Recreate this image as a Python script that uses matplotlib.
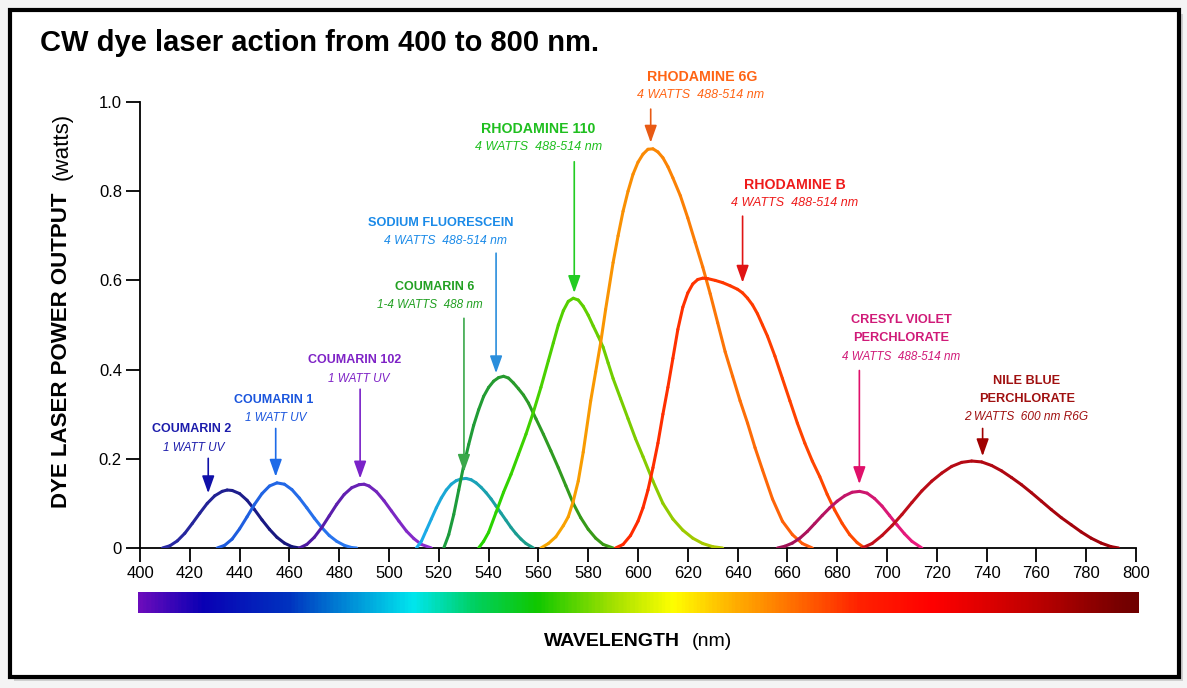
import numpy as np
import matplotlib.pyplot as plt
from matplotlib.collections import LineCollection
from matplotlib.colors import LinearSegmentedColormap, to_rgb
from matplotlib.patches import Rectangle

plt.rcParams['font.family'] = ['Liberation Sans', 'DejaVu Sans']

# tuning curves: wavelength (nm) / output (watts)
c2_nm = [409, 412, 415, 418, 421, 424, 427, 430, 433, 435, 437, 440, 443, 446, 449, 452, 455, 458, 461, 464]
c2_w = [0, 0.005, 0.016, 0.033, 0.055, 0.078, 0.100, 0.117, 0.127, 0.130, 0.129, 0.122, 0.107, 0.086, 0.063, 0.042, 0.024, 0.011, 0.003, 0]

c1_nm = [431, 434, 437, 440, 443, 446, 449, 452, 455, 458, 461, 464, 467, 470, 473, 476, 479, 482, 485, 487]
c1_w = [0, 0.006, 0.020, 0.043, 0.070, 0.098, 0.122, 0.139, 0.146, 0.143, 0.131, 0.112, 0.090, 0.067, 0.046, 0.028, 0.015, 0.006, 0.001, 0]

c102_nm = [464, 467, 470, 473, 476, 479, 482, 485, 488, 490, 492, 495, 498, 501, 504, 507, 510, 513, 517]
c102_w = [0, 0.008, 0.024, 0.046, 0.072, 0.098, 0.120, 0.135, 0.142, 0.143, 0.139, 0.126, 0.106, 0.083, 0.060, 0.038, 0.021, 0.008, 0]

c6_nm = [511, 513, 515, 517, 519, 521, 523, 525, 527, 529, 531, 533, 535, 537, 539, 541, 543, 545, 547, 549, 551, 553, 555, 558]
c6_w = [0, 0.015, 0.040, 0.065, 0.090, 0.112, 0.130, 0.143, 0.151, 0.155, 0.156, 0.153, 0.146, 0.136, 0.124, 0.110, 0.094, 0.078, 0.062, 0.046, 0.032, 0.020, 0.010, 0]

sf_nm = [522, 524, 526, 528, 530, 532, 534, 536, 538, 540, 542, 544, 546, 548, 550, 552, 554, 556, 559, 562, 565, 568, 571, 574, 577, 580, 583, 586, 590]
sf_w = [0, 0.030, 0.075, 0.130, 0.185, 0.232, 0.275, 0.310, 0.340, 0.360, 0.374, 0.382, 0.385, 0.381, 0.370, 0.357, 0.343, 0.325, 0.290, 0.255, 0.218, 0.180, 0.140, 0.100, 0.068, 0.042, 0.022, 0.008, 0]

r110_nm = [536, 538, 540, 543, 546, 549, 552, 555, 558, 561, 564, 566, 568, 570, 572, 574, 576, 578, 580, 582, 584, 586, 588, 590,
           593, 596, 599, 602, 606, 610, 614, 618, 622, 626, 630, 634]
r110_w = [0, 0.015, 0.035, 0.080, 0.125, 0.165, 0.210, 0.255, 0.305, 0.360, 0.420, 0.460, 0.500, 0.532, 0.553, 0.560, 0.556, 0.542,
          0.522, 0.498, 0.475, 0.450, 0.415, 0.380, 0.335, 0.290, 0.245, 0.205, 0.150, 0.100, 0.065, 0.040, 0.022, 0.010, 0.003, 0]

r6g_nm = [561, 564, 567, 570, 572, 574, 576, 578, 581, 583, 585, 587, 590, 592, 594, 596, 598, 600, 602, 604, 606, 608, 610, 612,
          614, 617, 620, 623, 626, 629, 632, 635, 638, 641, 644, 647, 650, 654, 658, 662, 666, 670]
r6g_w = [0, 0.010, 0.025, 0.050, 0.070, 0.105, 0.150, 0.215, 0.330, 0.395, 0.460, 0.535, 0.640, 0.700, 0.755, 0.800, 0.838, 0.865,
         0.883, 0.894, 0.895, 0.888, 0.875, 0.855, 0.830, 0.790, 0.740, 0.685, 0.630, 0.570, 0.505, 0.440, 0.385, 0.330, 0.280,
         0.225, 0.175, 0.110, 0.060, 0.030, 0.010, 0]

rb_nm = [591, 594, 597, 600, 602, 604, 606, 608, 610, 612, 614, 616, 618, 620, 622, 624, 626, 628, 631, 634, 637, 640, 642, 644,
         646, 648, 650, 652, 655, 658, 661, 664, 667, 670, 673, 676, 679, 682, 685, 688, 691]
rb_w = [0, 0.008, 0.028, 0.060, 0.090, 0.130, 0.180, 0.235, 0.300, 0.360, 0.425, 0.490, 0.540, 0.572, 0.592, 0.602, 0.605, 0.604,
        0.600, 0.595, 0.588, 0.580, 0.572, 0.560, 0.545, 0.525, 0.500, 0.475, 0.430, 0.380, 0.330, 0.280, 0.235, 0.195, 0.160,
        0.120, 0.085, 0.055, 0.030, 0.012, 0]

cv_nm = [656, 659, 662, 665, 668, 671, 674, 677, 680, 683, 686, 689, 692, 695, 698, 701, 704, 707, 710, 714]
cv_w = [0, 0.004, 0.011, 0.022, 0.037, 0.055, 0.073, 0.090, 0.105, 0.117, 0.125, 0.127, 0.123, 0.111, 0.094, 0.073, 0.052, 0.032, 0.015, 0]

nb_nm = [690, 694, 698, 702, 706, 710, 714, 718, 722, 726, 730, 734, 738, 742, 746, 750, 754, 758, 762, 766, 770, 774, 778, 782, 786, 790, 793]
nb_w = [0, 0.010, 0.028, 0.050, 0.075, 0.102, 0.128, 0.150, 0.168, 0.183, 0.192, 0.195, 0.193, 0.185, 0.173, 0.158, 0.142, 0.124, 0.105, 0.086, 0.068, 0.052, 0.036, 0.022, 0.011, 0.003, 0]

x_ticks = list(range(400, 801, 20))
y_ticks = [0, 0.2, 0.4, 0.6, 0.8, 1.0]
y_ticklabels = ['0', '0.2', '0.4', '0.6', '0.8', '1.0']

# curve colour ramps (left end -> right end)
curves = [
    (c2_nm, c2_w, '#2a2aa6', '#141478'),
    (c1_nm, c1_w, '#1c58dc', '#2a7af2'),
    (c102_nm, c102_w, '#4a18a0', '#8e2dd0'),
    (c6_nm, c6_w, '#1aacf0', '#1a9a82'),
    (sf_nm, sf_w, '#1a9c3e', '#3c9a12'),
    (r110_nm, r110_w, '#22d400', '#b2c800'),
    (r6g_nm, r6g_w, '#f7a800', '#ff5a0a'),
    (rb_nm, rb_w, '#ff2800', '#ff4c00'),
    (cv_nm, cv_w, '#9a1052', '#ee1a80'),
    (nb_nm, nb_w, '#c4101c', '#9e0008'),
]

# labels: title lines, sub line, colour, x, top line y, sub x, arrow x, arrow from, arrow to, arrow colour, sizes
labels = [
    (['COUMARIN 2'], '1 WATT UV', '#1c1cab', 420.7, 0.266, 421.4, 427.4, 0.201, 0.123, '#1010a8', 9, 8.5),
    (['COUMARIN 1'], '1 WATT UV', '#1a55dd', 453.8, 0.332, 454.5, 454.5, 0.268, 0.160, '#1e6be8', 9, 8.5),
    (['COUMARIN 102'], '1 WATT UV', '#7e22c6', 486.3, 0.421, 487.7, 488.4, 0.356, 0.156, '#7a22c8', 9, 8.5),
    (['SODIUM FLUORESCEIN'], '4 WATTS  488-514 nm', '#1a8ae8', 520.8, 0.729, 522.5, 543.0, 0.661, 0.392, '#2a8edc', 9.2, 8.7),
    (['COUMARIN 6'], '1-4 WATTS  488 nm', '#22a022', 518.5, 0.585, 516.5, 530.1, 0.515, 0.171, '#3aa84a', 9, 8.5),
    (['RHODAMINE 110'], '4 WATTS  488-514 nm', '#1fbf1f', 560.0, 0.939, 560.0, 574.4, 0.866, 0.572, '#22cc22', 10.2, 9),
    (['RHODAMINE 6G'], '4 WATTS  488-514 nm', '#ff6414', 625.6, 1.057, 625.2, 605.1, 0.984, 0.909, '#e85a14', 10.2, 9),
    (['RHODAMINE B'], '4 WATTS  488-514 nm', '#ee1a1a', 663.0, 0.814, 663.0, 642.0, 0.744, 0.595, '#e01414', 10.2, 9),
    (['CRESYL VIOLET', 'PERCHLORATE'], '4 WATTS  488-514 nm', '#d01a78', 705.6, 0.511, 705.6, 688.9, 0.398, 0.1435, '#e0106a', 9.2, 8.4),
    (['NILE BLUE', 'PERCHLORATE'], '2 WATTS  600 nm R6G', '#a01010', 756.1, 0.375, 755.7, 738.4, 0.268, 0.206, '#a00000', 9.2, 8.6),
]

# spectrum bar colour stops
spec_stops = [(400, '#6a0cbc'), (425, '#0a00b4'), (460, '#0033c0'), (485, '#0090d8'),
              (510, '#00e6ee'), (535, '#00d060'), (560, '#10c800'), (590, '#a0e000'),
              (615, '#ffff00'), (640, '#ffae00'), (665, '#ff6a00'), (690, '#ff2200'),
              (720, '#ff0000'), (760, '#c00000'), (795, '#780000'), (802, '#700000')]

W, H = 1187, 688
fig = plt.figure(figsize=(W / 100, H / 100), dpi=100)
fig.patch.set_facecolor('#f4f4f4')

# framed panel with a soft shadow, kept behind the axes
fig.patches.append(Rectangle((14 / W, 7 / H), 1169 / W, 667 / H, transform=fig.transFigure,
                             facecolor='#cfcfcf', edgecolor='none', zorder=-3))
fig.patches.append(Rectangle((10 / W, 11 / H), 1169 / W, 667 / H, transform=fig.transFigure,
                             facecolor='white', edgecolor='black', linewidth=3, zorder=-2))

ax = fig.add_axes([140 / W, (H - 548) / H, 996 / W, 446 / H])
ax.patch.set_alpha(0)
ax.set_xlim(400, 800)
ax.set_ylim(0, 1.0)
for s in ['top', 'right']:
    ax.spines[s].set_visible(False)
for s in ['left', 'bottom']:
    ax.spines[s].set_linewidth(1.3)
ax.set_xticks(x_ticks)
ax.set_yticks(y_ticks)
ax.set_yticklabels(y_ticklabels)
ax.tick_params(direction='out', length=10, width=1.3, labelsize=12, pad=3)

for xs, ys, c0, c1 in curves:
    pts = np.column_stack([xs, ys]).reshape(-1, 1, 2)
    segs = np.concatenate([pts[:-1], pts[1:]], axis=1)
    mids = (np.array(xs[:-1]) + np.array(xs[1:])) / 2
    f = (mids - xs[0]) / (xs[-1] - xs[0])
    a, b = np.array(to_rgb(c0)), np.array(to_rgb(c1))
    cols = [(1 - t) * a + t * b for t in f]
    ax.add_collection(LineCollection(segs, colors=cols, linewidths=2.2,
                                     capstyle='round', joinstyle='round', zorder=3))

dy = 0.041
for lines, sub, col, x, y, sx, axx, a0, a1, acol, fs, fs2 in labels:
    for i, ln in enumerate(lines):
        ax.text(x, y - i * dy, ln, color=col, fontsize=fs, fontweight='bold',
                ha='center', va='center', clip_on=False)
    ax.text(sx, y - len(lines) * dy, sub, color=col, fontsize=fs2, style='italic',
            ha='center', va='center', clip_on=False)
    ax.annotate('', xy=(axx, a1), xytext=(axx, a0),
                arrowprops=dict(arrowstyle='-|>,head_length=0.7,head_width=0.25',
                                color=acol, lw=1.2, mutation_scale=15, shrinkA=0, shrinkB=0),
                annotation_clip=False, zorder=4)

# wavelength colour bar
bax = fig.add_axes([138 / W, (H - 613) / H, 1001 / W, 21 / H])
cmap = LinearSegmentedColormap.from_list(
    'spec', [((w - 400) / 402, c) for w, c in spec_stops])
bax.imshow(np.linspace(0, 1, 600).reshape(1, -1), cmap=cmap, aspect='auto',
           extent=[400, 802, 0, 1])
bax.axis('off')

fig.text(40 / W, 1 - 43 / H, 'CW dye laser action from 400 to 800 nm.',
         fontsize=21, fontweight='bold', ha='left', va='center')

fig.text(680 / W, 1 - 641 / H, 'WAVELENGTH', fontsize=14, fontweight='bold',
         ha='right', va='center')
fig.text(692 / W, 1 - 641 / H, '(nm)', fontsize=14, ha='left', va='center')

fig.text(62 / W, 1 - 350 / H, 'DYE LASER POWER OUTPUT', fontsize=16, fontweight='bold',
         rotation=90, ha='center', va='center')
fig.text(62 / W, 1 - 146 / H, '(watts)', fontsize=16,
         rotation=90, ha='center', va='center')

fig.savefig('out.png', dpi=100, facecolor=fig.get_facecolor())
